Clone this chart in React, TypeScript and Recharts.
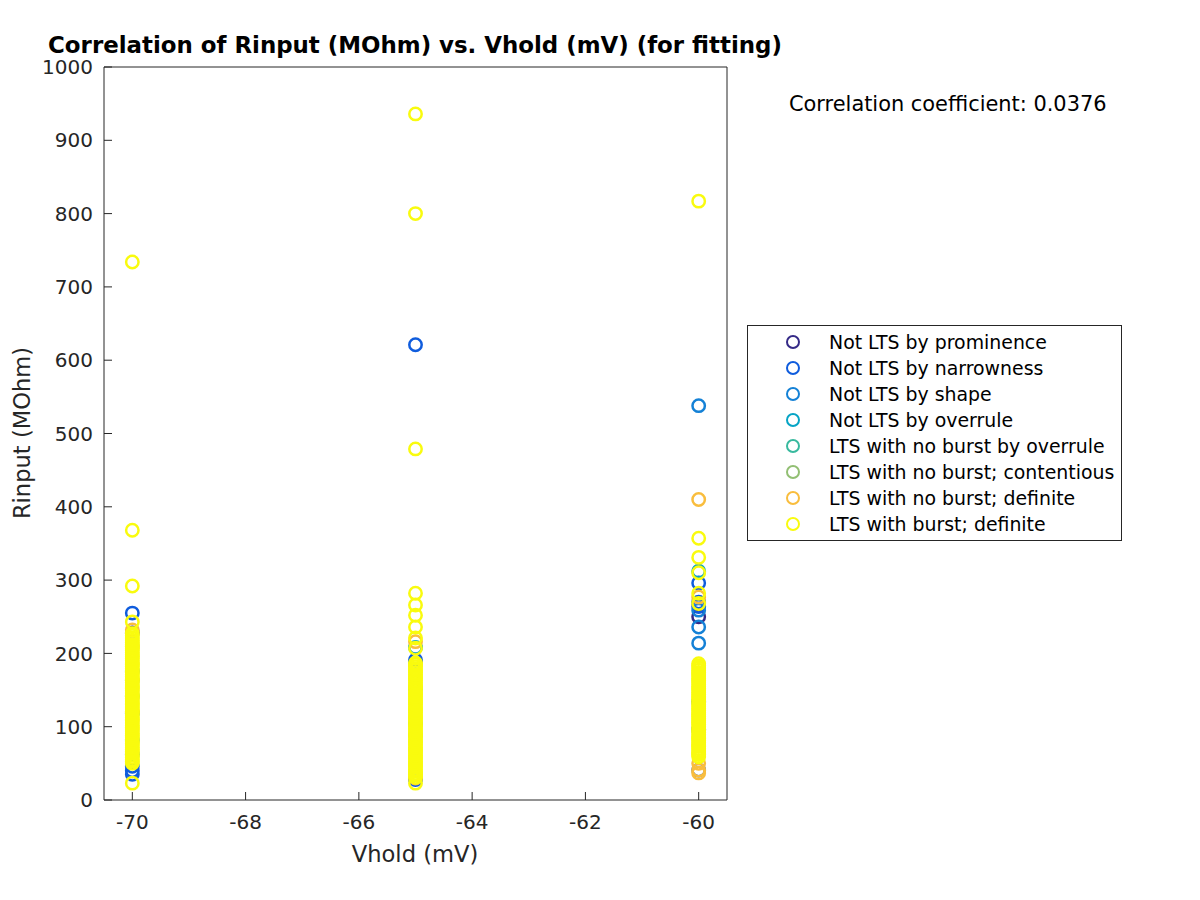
import React from 'react';
import { ScatterChart, Scatter, XAxis, YAxis, Legend, Customized } from 'recharts';

const vholdTicks = [-70, -68, -66, -64, -62, -60];
const rinputTicks = [0, 100, 200, 300, 400, 500, 600, 700, 800, 900, 1000];

const categoryNames = [
  'Not LTS by prominence',
  'Not LTS by narrowness',
  'Not LTS by shape',
  'Not LTS by overrule',
  'LTS with no burst by overrule',
  'LTS with no burst; contentious',
  'LTS with no burst; definite',
  'LTS with burst; definite',
];
const categoryColors = ['#352a87', '#0f5cdd', '#1481d6', '#06a4c5', '#38b99e', '#92bf73', '#f9bd3d', '#f9fb0e'];

// [Vhold (mV), Rinput (MOhm)]
const notLtsProminence = [[-60, 250], [-70, 228]];
const notLtsNarrowness = [
  [-70, 255], [-70, 46], [-70, 40], [-70, 35],
  [-65, 621], [-65, 191], [-65, 186], [-65, 28],
  [-60, 296], [-60, 270], [-60, 264], [-60, 134], [-60, 96], [-60, 41],
];
const notLtsShape = [[-60, 538], [-60, 259], [-60, 236], [-60, 214], [-70, 118], [-70, 62], [-65, 152]];
const notLtsOverrule = [[-60, 312], [-70, 176], [-70, 82], [-65, 208]];
const ltsNoBurstOverrule = [[-70, 142], [-65, 104]];
const ltsNoBurstContentious = [[-70, 163], [-65, 88]];
const ltsNoBurstDefinite = [
  [-60, 410], [-60, 277], [-60, 50], [-60, 41], [-60, 37],
  [-70, 232], [-70, 121], [-70, 210],
  [-65, 35], [-65, 30], [-65, 216],
];

// LTS with burst; definite — Rinput values in each Vhold column
const burstAtMinus70 = [
  734, 368, 292, 243, 23,
  50, 53, 55, 58, 61, 64, 66, 69, 72, 75, 77, 80, 83, 86, 88, 91, 94, 97, 99, 102, 105, 108,
  110, 113, 116, 119, 121, 124, 127, 130, 132, 135, 138, 141, 143, 146, 149, 152, 154, 157,
  160, 163, 165, 168, 171, 174, 176, 179, 182, 185, 187, 190, 193, 196, 198, 201, 204, 207,
  209, 212, 215, 218, 221, 224, 227,
];
const burstAtMinus65 = [
  936, 800, 479, 282, 266, 252, 236, 221, 207, 23,
  31, 34, 36, 39, 42, 45, 47, 50, 53, 56, 58, 61, 64, 67, 69, 72, 75, 78, 80, 83, 86, 89,
  91, 94, 97, 100, 102, 105, 108, 111, 113, 116, 119, 122, 124, 127, 130, 133, 135, 138,
  141, 144, 146, 149, 152, 155, 157, 160, 163, 166, 168, 171, 174, 177, 179, 182, 185, 187,
];
const burstAtMinus60 = [
  817, 357, 331, 310, 282, 268,
  59, 62, 64, 67, 70, 73, 75, 78, 81, 84, 86, 89, 92, 95, 97, 100, 103, 106, 108, 111, 114,
  117, 119, 122, 125, 128, 130, 133, 136, 139, 141, 144, 147, 150, 152, 155, 158, 161, 163,
  166, 169, 172, 174, 177, 180, 183, 186,
];
const ltsBurstDefinite = [
  ...burstAtMinus70.map((r) => [-70, r]),
  ...burstAtMinus65.map((r) => [-65, r]),
  ...burstAtMinus60.map((r) => [-60, r]),
];

const seriesData = [
  notLtsProminence, notLtsNarrowness, notLtsShape, notLtsOverrule,
  ltsNoBurstOverrule, ltsNoBurstContentious, ltsNoBurstDefinite, ltsBurstDefinite,
];

const FONT = 'DejaVu Sans, sans-serif';
const TEXT = '#262626';

const ring = (color: string) => (props: any) => (
  <circle cx={props.cx} cy={props.cy} r={6.2} fill="none" stroke={color} strokeWidth={2.5} />
);

const LegendBox = () => (
  <div style={{ width: 373, height: 214, border: '1px solid #262626', background: '#fff', boxSizing: 'content-box' }}>
    <svg width={373} height={214}>
      {categoryNames.map((name, i) => (
        <g key={name}>
          <circle cx={45} cy={16 + i * 26} r={6} fill="none" stroke={categoryColors[i]} strokeWidth={2} />
          <text x={81} y={16 + i * 26} dy="0.35em" fontFamily={FONT} fontSize={18.9} fill="#000">{name}</text>
        </g>
      ))}
    </svg>
  </div>
);

const Annotations = () => (
  <g>
    <text x={415} y={53} textAnchor="middle" fontFamily={FONT} fontWeight="bold" fontSize={22.9} fill="#000">
      Correlation of Rinput (MOhm) vs. Vhold (mV) (for fitting)
    </text>
    <text x={415} y={862} textAnchor="middle" fontFamily={FONT} fontSize={22.6} fill={TEXT}>Vhold (mV)</text>
    <text x={0} y={0} transform="translate(30,433) rotate(-90)" textAnchor="middle" fontFamily={FONT} fontSize={22.6} fill={TEXT}>
      Rinput (MOhm)
    </text>
    <text x={789} y={111} fontFamily={FONT} fontSize={20.9} fill="#000">Correlation coefficient: 0.0376</text>
  </g>
);

export default function App() {
  return (
    <div style={{ position: 'absolute', left: 0, top: 0, width: 1200, height: 900, background: '#fff' }}>
      <ScatterChart width={1200} height={900} margin={{ top: 66, right: 472, bottom: 40, left: 44 }}>
        <XAxis
          xAxisId="b" type="number" dataKey="x" orientation="bottom" height={60}
          domain={[-70.5, -59.5]} ticks={vholdTicks} allowDataOverflow
          tickSize={-8} tickMargin={23}
          axisLine={{ stroke: TEXT }} tickLine={{ stroke: TEXT }}
          tick={{ fill: TEXT, fontSize: 20, fontFamily: FONT }}
        />
        <XAxis
          xAxisId="t" type="number" dataKey="x" orientation="top" height={1}
          domain={[-70.5, -59.5]} ticks={vholdTicks} allowDataOverflow
          tickSize={-8} tick={false}
          axisLine={{ stroke: TEXT }} tickLine={{ stroke: TEXT }}
        />
        <YAxis
          yAxisId="l" type="number" dataKey="y" orientation="left" width={60}
          domain={[0, 1000]} ticks={rinputTicks} allowDataOverflow
          tickSize={-8} tickMargin={19}
          axisLine={{ stroke: TEXT }} tickLine={{ stroke: TEXT }}
          tick={{ fill: TEXT, fontSize: 20, fontFamily: FONT }}
        />
        <YAxis
          yAxisId="r" type="number" dataKey="y" orientation="right" width={1}
          domain={[0, 1000]} ticks={rinputTicks} allowDataOverflow
          tickSize={-8} tick={false}
          axisLine={{ stroke: TEXT }} tickLine={{ stroke: TEXT }}
        />
        {seriesData.map((pts, i) => (
          <Scatter
            key={categoryNames[i]}
            name={categoryNames[i]}
            xAxisId="b" yAxisId="l"
            data={pts.map(([x, y]) => ({ x, y }))}
            fill={categoryColors[i]}
            shape={ring(categoryColors[i])}
            isAnimationActive={false}
          />
        ))}
        <Legend
          layout="vertical" align="center" verticalAlign="middle"
          wrapperStyle={{ position: 'absolute', left: 747, top: 325, width: 375, height: 216 }}
          content={() => <LegendBox />}
        />
        <Customized component={Annotations} />
      </ScatterChart>
    </div>
  );
}
